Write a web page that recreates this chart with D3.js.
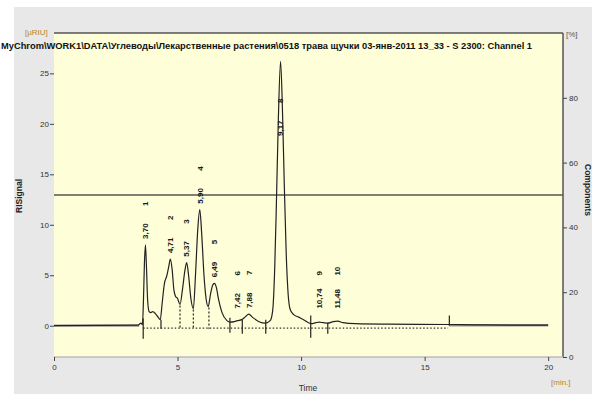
<!DOCTYPE html>
<html>
<head>
<meta charset="utf-8">
<script src="https://cdn.jsdelivr.net/npm/d3@7"></script>
<style>
  body { margin: 0; background: #fff; }
  text { font-family: "Liberation Sans", Arial, sans-serif; }
</style>
</head>
<body>
<div id="chart"></div>
<script>
// chromatogram trace, time [min] / signal [uRIU]
let traceTime = [0, 3.4, 3.52, 3.58, 3.62, 3.66, 3.70, 3.74, 3.79, 3.85, 3.92, 4.0, 4.1, 4.2, 4.3,
  4.38, 4.47, 4.56, 4.64, 4.71, 4.78, 4.85, 4.92, 5.0, 5.1, 5.2, 5.3, 5.37, 5.45, 5.54, 5.64,
  5.73, 5.82, 5.9, 5.98, 6.07, 6.16, 6.24, 6.34, 6.42, 6.49, 6.57, 6.66, 6.8, 7.0, 7.12, 7.3,
  7.42, 7.6, 7.75, 7.88, 8.05, 8.3, 8.55, 8.75, 8.85, 8.93, 9.0, 9.08, 9.17, 9.25, 9.32, 9.4,
  9.48, 9.56, 9.7, 9.9, 10.1, 10.3, 10.42, 10.6, 10.74, 10.9, 11.08, 11.3, 11.48, 11.7, 12.2,
  13.5, 15.9, 17, 20];
let traceSignal = [0, 0.05, 0.25, 0.1, 2.5, 6.2, 8.0, 6.0, 2.5, 1.4, 1.3, 1.4, 1.2, 0.9, 0.6,
  2.3, 4.2, 4.9, 5.8, 6.6, 5.6, 3.6, 2.9, 2.7, 2.1, 3.6, 5.5, 6.25, 4.9, 2.7, 1.7,
  5.2, 9.6, 11.5, 9.0, 5.0, 2.6, 1.9, 3.2, 4.0, 4.2, 3.8, 2.6, 1.3, 0.5, 0.35, 0.4,
  0.5, 0.6, 0.9, 1.15, 0.8, 0.4, 0.25, 0.5, 1.5, 5.5, 12, 20.5, 26.2, 21.0, 14, 7.0,
  3.0, 1.6, 1.1, 0.85, 0.6, 0.3, 0.2, 0.3, 0.35, 0.3, 0.25, 0.4, 0.45, 0.3, 0.2,
  0.15, 0.12, 0.08, 0.05];

// integrated peaks
let peakIds = ["1", "2", "3", "4", "5", "6", "7", "8", "9", "10"];
let peakTimes = [3.70, 4.71, 5.37, 5.90, 6.49, 7.42, 7.88, 9.17, 10.74, 11.48];
let peakHeights = [8.0, 6.6, 6.25, 11.5, 4.2, 0.5, 1.15, 26.2, 0.35, 0.45];

// peak boundary / event marks
let markTimes = [3.61, 4.33, 5.10, 5.64, 6.27, 7.12, 7.62, 8.57, 10.39, 11.08, 16.0];
let markTop = [0.75, 0.6, 2.0, 1.6, 1.8, 0.8, 0.6, 0.6, 1.0, 0.3, 1.0];
let markBottom = [-1.3, -0.3, -0.3, -0.3, -0.3, -0.7, -0.8, -0.8, -1.2, -0.8, 0];
let markDashed = [false, false, true, true, true, false, false, false, false, false, false];

// dotted baseline under the integrated peaks
let baseTimes = [3.61, 15.95];
let baseSignal = [-0.23, -0.23];

let xTicks = [0, 5, 10, 15, 20];
let yTicks = [0, 5, 10, 15, 20, 25];
let y2Ticks = [0, 20, 40, 60, 80];
let thresholdPct = 50;

let title = "MyChrom\\WORK1\\DATA\\Углеводы\\Лекарственные растения\\0518 трава щучки 03-янв-2011 13_33 - S 2300: Channel 1";

let W = 592, H = 394;
let margin = {left: 54, right: 29, top: 33, bottom: 37};
let width = W - margin.left - margin.right,
    height = H - margin.top - margin.bottom;

let svg = d3.select("#chart")
  .append("svg")
    .attr("width", W)
    .attr("height", H);

// grey panel + yellow plot area
svg.append("rect")
  .attr("x", 14).attr("y", 7)
  .attr("width", W - 14).attr("height", H - 7)
  .attr("fill", "#e8e8e8");

let g = svg.append("g")
  .attr("transform", `translate(${margin.left}, ${margin.top})`);

g.append("rect")
  .attr("width", width).attr("height", height)
  .attr("fill", "#fefed9");

let x = d3.scaleLinear().domain([0, 20.6]).range([0, width]);
let y = d3.scaleLinear().domain([-3.1, 29.0]).range([height, 0]);
let y2 = d3.scaleLinear().domain([0, 100]).range([height, 0]);

// frame: top and right dark, bottom light
g.append("line").attr("x1", 0).attr("x2", width).attr("y1", 0).attr("y2", 0)
  .attr("stroke", "#555").attr("stroke-width", 1.5);
g.append("line").attr("x1", width).attr("x2", width).attr("y1", 0).attr("y2", height)
  .attr("stroke", "#555").attr("stroke-width", 1.5);
g.append("line").attr("x1", 0).attr("x2", width).attr("y1", height).attr("y2", height)
  .attr("stroke", "#bbb").attr("stroke-width", 1.5);

// axes
let xAxis = g.append("g")
  .attr("transform", `translate(0, ${height})`)
  .call(d3.axisBottom(x).tickValues(xTicks).tickSize(4).tickPadding(3));
let yAxis = g.append("g")
  .call(d3.axisLeft(y).tickValues(yTicks).tickSize(4).tickPadding(1));
let y2Axis = g.append("g")
  .attr("transform", `translate(${width}, 0)`)
  .call(d3.axisRight(y2).tickValues(y2Ticks).tickSize(4).tickPadding(2));

[xAxis, yAxis, y2Axis].forEach(a => {
  a.select(".domain").remove();
  a.selectAll("line").attr("stroke", "#444");
  a.selectAll("text").attr("font-size", "8px").attr("fill", "#333")
    .attr("font-family", "Liberation Sans, Arial");
});

// 50% line
g.append("line")
  .attr("x1", 0).attr("x2", width)
  .attr("y1", y2(thresholdPct)).attr("y2", y2(thresholdPct))
  .attr("stroke", "#555").attr("stroke-width", 1.5);

// baseline grey segments (trace overlapped by baseline)
g.append("line")
  .attr("x1", x(0)).attr("x2", x(3.45))
  .attr("y1", y(0)).attr("y2", y(0))
  .attr("stroke", "#999").attr("stroke-width", 2.2);
g.append("line")
  .attr("x1", x(16)).attr("x2", x(20))
  .attr("y1", y(0.05)).attr("y2", y(0.05))
  .attr("stroke", "#999").attr("stroke-width", 2.4);

// dotted baseline
let basePts = baseTimes.map((t, i) => [t, baseSignal[i]]);
g.append("path")
  .datum(basePts)
  .attr("d", d3.line().x(d => x(d[0])).y(d => y(d[1])))
  .attr("fill", "none")
  .attr("stroke", "#333")
  .attr("stroke-width", 1.3)
  .attr("stroke-dasharray", "1.5,2");

// trace
let trace = traceTime.map((t, i) => [t, traceSignal[i]]);
g.append("path")
  .datum(trace)
  .attr("d", d3.line().x(d => x(d[0])).y(d => y(d[1])).curve(d3.curveMonotoneX))
  .attr("fill", "none")
  .attr("stroke", "#222")
  .attr("stroke-width", 1.2);

// boundary marks
g.selectAll(".mark")
  .data(markTimes)
  .enter()
  .append("line")
    .attr("class", "mark")
    .attr("x1", d => x(d)).attr("x2", d => x(d))
    .attr("y1", (d, i) => y(markTop[i]))
    .attr("y2", (d, i) => y(markBottom[i]))
    .attr("stroke", "#222")
    .attr("stroke-width", 1.2)
    .attr("stroke-dasharray", (d, i) => markDashed[i] ? "2,2" : null);

// peak labels, rotated
let fmt = d => d3.format(".2f")(d).replace(".", ",");
let labelBottom = h => y(Math.max(1.1, Math.min(h, 18.2))) - 6;

peakTimes.forEach((t, i) => {
  let lb = labelBottom(peakHeights[i]);
  g.append("text")
    .attr("transform", `translate(${x(t)}, ${lb}) rotate(-90)`)
    .attr("dy", "0.35em")
    .attr("font-size", "8px")
    .attr("font-weight", "600")
    .attr("fill", "#1a1a1a")
    .text(fmt(t));
  g.append("text")
    .attr("transform", `translate(${x(t)}, ${lb - 33}) rotate(-90)`)
    .attr("dy", "0.35em")
    .attr("font-size", "8px")
    .attr("font-weight", "600")
    .attr("fill", "#1a1a1a")
    .text(peakIds[i]);
});

// title
svg.append("text")
  .attr("x", 1).attr("y", 49)
  .attr("font-size", "8.6px")
  .attr("font-weight", "bold")
  .attr("fill", "#111")
  .attr("textLength", 531)
  .attr("lengthAdjust", "spacingAndGlyphs")
  .text(title);

// units and axis titles
svg.append("text").attr("x", 25).attr("y", 35)
  .attr("font-size", "8px").attr("fill", "#b8862e").text("[µRIU]");
svg.append("text").attr("x", 566).attr("y", 37)
  .attr("font-size", "8px").attr("fill", "#556").text("[%]");
svg.append("text").attr("x", 551).attr("y", 385)
  .attr("font-size", "8px").attr("fill", "#b8862e").text("[min.]");
svg.append("text").attr("x", 308).attr("y", 391)
  .attr("text-anchor", "middle")
  .attr("font-size", "8.5px").attr("fill", "#333").text("Time");
svg.append("text")
  .attr("transform", "translate(22, 196) rotate(-90)")
  .attr("text-anchor", "middle")
  .attr("font-size", "8.5px").attr("font-weight", "bold").attr("fill", "#222")
  .text("RISignal");
svg.append("text")
  .attr("transform", "translate(585, 190) rotate(90)")
  .attr("text-anchor", "middle")
  .attr("font-size", "8.5px").attr("font-weight", "bold").attr("fill", "#222")
  .text("Components");
</script>
</body>
</html>
